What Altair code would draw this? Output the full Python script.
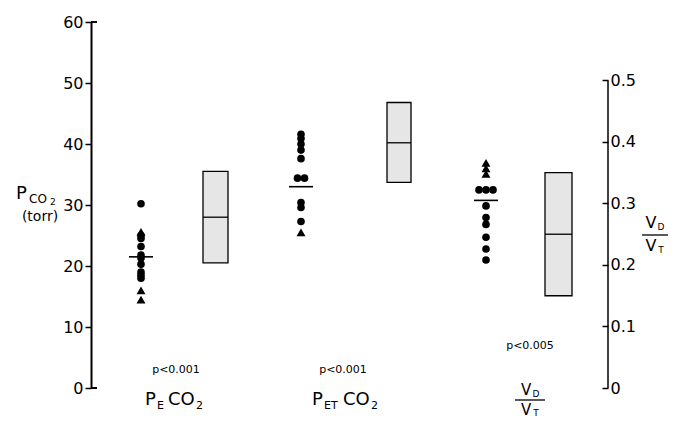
import altair as alt
import pandas as pd

# ---------------- data ----------------
groups = ["PE CO2", "PET CO2", "VD/VT"]
pe_circles = [30.2, 25.0, 24.5, 23.2, 21.8, 21.3, 20.3, 19.0, 18.5, 18.0]
pe_triangles = [25.6, 16.0, 14.5]
pet_circles = [41.6, 40.9, 40.0, 39.0, 37.6, 34.4, 34.4, 30.4, 29.6, 27.3]
pet_triangles = [25.5]
vd_circles = [0.322, 0.322, 0.322, 0.296, 0.277, 0.266, 0.245, 0.226, 0.208]
vd_triangles = [0.366, 0.357, 0.348]
means = [21.5, 33.0, 0.305]
box_low = [20.5, 33.7, 0.15]
box_mid = [28.0, 40.2, 0.25]
box_high = [35.5, 46.8, 0.35]
p_values = ["p<0.001", "p<0.001", "p<0.005"]
left_ticks = [0, 10, 20, 30, 40, 50, 60]
right_ticks = [0, 0.1, 0.2, 0.3, 0.4, 0.5]

# ---------------- layout (pixels inside the plot area) ----------------
W, H = 517, 366
LEFT_MAX = 60
RIGHT_MAX = 0.595
dot_x = [50, 210, 395]
box_x = [(112, 137), (296, 320), (454, 481)]
MEAN_HALF = 12
DOT_GAP = 7
FONT = "DejaVu Sans"

xs = alt.Scale(domain=[0, W])


def point_rows(vals, cx, shape):
    counts = {}
    for v in vals:
        counts[v] = counts.get(v, 0) + 1
    seen, rows = {}, []
    for v in vals:
        n = counts[v]
        i = seen.get(v, 0)
        seen[v] = i + 1
        rows.append({"x": cx + (i - (n - 1) / 2) * DOT_GAP, "v": v, "shape": shape})
    return rows


left_pts = pd.DataFrame(
    point_rows(pe_circles, dot_x[0], "circle") + point_rows(pe_triangles, dot_x[0], "triangle")
    + point_rows(pet_circles, dot_x[1], "circle") + point_rows(pet_triangles, dot_x[1], "triangle")
)
right_pts = pd.DataFrame(
    point_rows(vd_circles, dot_x[2], "circle") + point_rows(vd_triangles, dot_x[2], "triangle")
)


def summary(idx):
    return pd.DataFrame({
        "mx": [dot_x[i] - MEAN_HALF for i in idx],
        "mx2": [dot_x[i] + MEAN_HALF for i in idx],
        "mean": [means[i] for i in idx],
        "bx": [box_x[i][0] for i in idx],
        "bx2": [box_x[i][1] for i in idx],
        "lo": [box_low[i] for i in idx],
        "mid": [box_mid[i] for i in idx],
        "hi": [box_high[i] for i in idx],
    })


left_sum = summary([0, 1])
right_sum = summary([2])

axis_common = dict(
    grid=False, title=None, labelColor="black", tickColor="black", domainColor="black",
    labelFont=FONT, labelFontSize=16, tickWidth=1.5, tickSize=6,
)
left_axis = alt.Axis(values=left_ticks, orient="left", domainWidth=2, labelPadding=2, **axis_common)
right_axis = alt.Axis(values=right_ticks, orient="right", domain=False, offset=-6, labelPadding=2,
                      labelExpr="datum.value == 0 ? '0' : format(datum.value, '.1f')", **axis_common)
left_scale = alt.Scale(domain=[0, LEFT_MAX], nice=False, zero=True)
right_scale = alt.Scale(domain=[0, RIGHT_MAX], nice=False, zero=True)


def side(pts, summ, scale, axis, extra):
    def Y(f):
        return alt.Y(f + ":Q", scale=scale, axis=axis)
    box = alt.Chart(summ).mark_rect(fill="#e6e6e6", stroke="black", strokeWidth=1.3).encode(
        x=alt.X("bx:Q", scale=xs, axis=None), x2="bx2:Q", y=Y("lo"), y2="hi:Q")
    boxmid = alt.Chart(summ).mark_rule(color="black", strokeWidth=1.3).encode(
        x=alt.X("bx:Q", scale=xs, axis=None), x2="bx2:Q", y=Y("mid"))
    mean = alt.Chart(summ).mark_rule(color="black", strokeWidth=1.6).encode(
        x=alt.X("mx:Q", scale=xs, axis=None), x2="mx2:Q", y=Y("mean"))
    circ = alt.Chart(pts).transform_filter(alt.datum.shape == "circle").mark_circle(
        size=58, color="black", opacity=1).encode(x=alt.X("x:Q", scale=xs, axis=None), y=Y("v"))
    tri = alt.Chart(pts).transform_filter(alt.datum.shape == "triangle").mark_point(
        shape="triangle-up", filled=True, size=80, color="black", opacity=1).encode(
        x=alt.X("x:Q", scale=xs, axis=None), y=Y("v"))
    return alt.layer(box, boxmid, mean, circ, tri, *[e(Y) for e in extra])


def left_caps(Y):
    df = pd.DataFrame({"c": [0, LEFT_MAX], "cx": [0, 0], "cx2": [6, 6]})
    return alt.Chart(df).mark_rule(color="black", strokeWidth=2).encode(
        x=alt.X("cx:Q", scale=xs, axis=None), x2="cx2:Q", y=Y("c"))


def right_line(Y):
    df = pd.DataFrame({"a": [0], "b": [right_ticks[-1]]})
    return alt.Chart(df).mark_rule(color="black", strokeWidth=1.5).encode(
        x=alt.value(W), y=Y("a"), y2="b:Q")


left_group = side(left_pts, left_sum, left_scale, left_axis, [left_caps])
right_group = side(right_pts, right_sum, right_scale, right_axis, [right_line])

# ---------------- text annotations (page px -> plot px) ----------------
OX, OY = 91, 22
left_texts = [
    ("P", 145, 400, 18), ("E", 157, 406, 11), ("CO", 168, 400, 18), ("2", 196, 406, 11),
    ("P", 312, 400, 18), ("ET", 324, 406, 11), ("CO", 343, 400, 18), ("2", 371, 406, 11),
    ("P", 16, 194, 18), ("CO", 29, 199, 12), ("2", 50, 202, 9),
]
center_texts = [
    (p_values[0], 176, 370, 11), (p_values[1], 343, 370, 11), (p_values[2], 530, 346, 11),
    ("V", 526, 390, 15), ("D", 536, 394, 9), ("V", 526, 410, 15), ("T", 536, 413, 9),
    ("V", 651, 223, 16), ("D", 661, 227, 9), ("V", 651, 246, 16), ("T", 661, 250, 9),
    ("(torr)", 40, 217, 14),
]


def text_layer(items, align):
    df = pd.DataFrame({"t": [a[0] for a in items], "px": [a[1] - OX for a in items],
                       "py": [a[2] - OY for a in items], "fs": [a[3] for a in items]})
    return alt.Chart(df).mark_text(align=align, baseline="middle", font=FONT, color="black").encode(
        x=alt.X("px:Q", scale=None, axis=None), y=alt.Y("py:Q", scale=None, axis=None),
        size=alt.Size("fs:Q", scale=None, legend=None), text="t:N")


frac_df = pd.DataFrame({"px": [515 - OX, 642 - OX], "px2": [545 - OX, 668 - OX],
                        "py": [400 - OY, 235 - OY]})
frac_rules = alt.Chart(frac_df).mark_rule(color="black", strokeWidth=1.3).encode(
    x=alt.X("px:Q", scale=None, axis=None), x2="px2:Q", y=alt.Y("py:Q", scale=None, axis=None))

chart = alt.layer(
    left_group, right_group, text_layer(left_texts, "left"), text_layer(center_texts, "center"), frac_rules
).resolve_scale(y="independent", x="independent", size="independent").properties(
    width=W, height=H,
    autosize=alt.AutoSizeParams(type="none"),
    padding={"left": 83, "top": 14, "right": 62, "bottom": 31},
    background="white",
).configure_view(stroke=None)

chart.save("out.html", embed_options={"renderer": "svg", "actions": False})
